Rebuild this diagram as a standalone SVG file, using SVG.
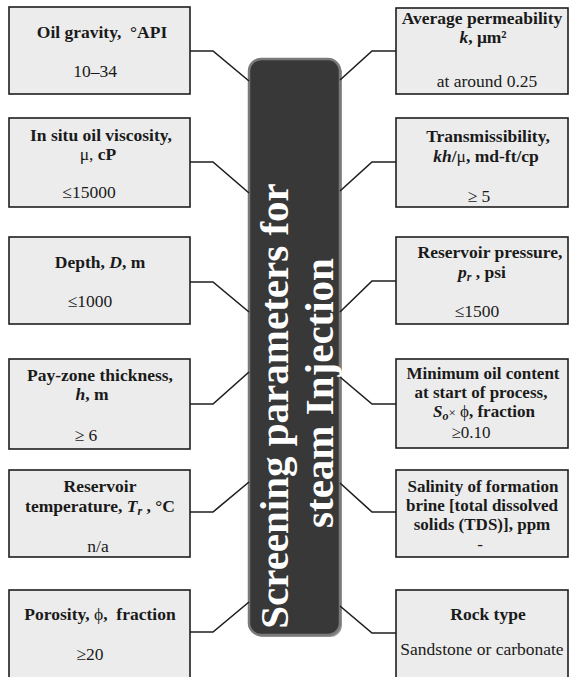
<svg xmlns="http://www.w3.org/2000/svg" width="569" height="677" viewBox="0 0 569 677">
<style>
.box{fill:#ececec;stroke:#1e1e1e;stroke-width:1.6}
.t{font-family:"Liberation Serif","Times New Roman",serif;font-size:17.5px;fill:#1a1a1a;text-anchor:middle}
.s{font-size:17px}
.b{font-weight:bold}
.i{font-style:italic}
.c{fill:none;stroke:#1e1e1e;stroke-width:1.6}
.title{font-family:"Liberation Serif","Times New Roman",serif;font-size:41px;font-weight:bold;fill:#ffffff;text-anchor:middle}
</style>
<rect width="569" height="677" fill="#ffffff"/>
<g id="center">
<rect x="251" y="61" width="91" height="576" rx="12" fill="#9a9a9a"/>
<rect x="249" y="59" width="91" height="576" rx="12" fill="#383838" stroke="#7a7a7a" stroke-width="2.5"/>
<text class="title" transform="translate(288,406) rotate(-90)">Screening parameters for</text>
<text class="title" transform="translate(333,393) rotate(-90)">steam Injection</text>
</g>
<g id="connectors">
<polyline class="c" points="190,51 213,51 249,81"/>
<polyline class="c" points="190,162 213,162 249,193"/>
<polyline class="c" points="190,282 213,282 249,312"/>
<polyline class="c" points="190,404 213,404 249,372"/>
<polyline class="c" points="190,512 213,512 249,482"/>
<polyline class="c" points="190,632 213,632 249,602"/>
<polyline class="c" points="396,51 372,51 340,80"/>
<polyline class="c" points="396,162 372,162 340,191"/>
<polyline class="c" points="396,281 372,281 340,312"/>
<polyline class="c" points="396,404 372,404 340,377"/>
<polyline class="c" points="396,512 372,512 340,483"/>
<polyline class="c" points="396,633 372,633 340,606"/>
</g>
<g id="oil-gravity">
<rect class="box" x="9" y="7" width="181" height="87"/>
<text class="t b" x="102" y="38">Oil gravity,&#160; °API</text>
<text class="t" x="95" y="77">10–34</text>
</g>
<g id="viscosity">
<rect class="box" x="9" y="118" width="181" height="89"/>
<text class="t b" x="101" y="141">In situ oil viscosity,</text>
<text class="t" x="98" y="160">μ, <tspan class="b">cP</tspan></text>
<text class="t" x="89" y="198">≤15000</text>
</g>
<g id="depth">
<rect class="box" x="9" y="237" width="181" height="87"/>
<text class="t b" x="100" y="268">Depth, <tspan class="i">D</tspan>, m</text>
<text class="t" x="90" y="307">≤1000</text>
</g>
<g id="thickness">
<rect class="box" x="9" y="359" width="181" height="90"/>
<text class="t b" x="100" y="381">Pay-zone thickness,</text>
<text class="t b" x="92" y="400"><tspan class="i">h</tspan>, m</text>
<text class="t" x="86" y="441">≥ 6</text>
</g>
<g id="temperature">
<rect class="box" x="9" y="470" width="181" height="87"/>
<text class="t b" x="100" y="492">Reservoir</text>
<text class="t b" x="100" y="512">temperature, <tspan class="i">T<tspan font-size="12" dy="3">r</tspan></tspan><tspan dy="-3"> , °C</tspan></text>
<text class="t" x="98" y="552">n/a</text>
</g>
<g id="porosity">
<rect class="box" x="9" y="590" width="181" height="90"/>
<text class="t b" x="100" y="620">Porosity, <tspan font-weight="normal">ϕ</tspan>,&#160; fraction</text>
<text class="t" x="90" y="660">≥20</text>
</g>
<g id="permeability">
<rect class="box" x="396" y="8" width="172" height="86"/>
<text class="t b" x="482" y="24">Average permeability</text>
<text class="t b" x="483" y="43"><tspan class="i">k</tspan>, μm²</text>
<text class="t" x="487" y="87">at around 0.25</text>
</g>
<g id="transmissibility">
<rect class="box" x="396" y="118" width="172" height="89"/>
<text class="t b" x="488" y="142">Transmissibility,</text>
<text class="t b" x="486" y="162"><tspan class="i">kh</tspan>/<tspan font-weight="normal">μ</tspan>, md-ft/cp</text>
<text class="t" x="479" y="202">≥ 5</text>
</g>
<g id="pressure">
<rect class="box" x="396" y="237" width="172" height="87"/>
<text class="t b" x="490" y="258">Reservoir pressure,</text>
<text class="t b" x="482" y="278"><tspan class="i">p<tspan font-size="12" dy="3">r</tspan></tspan><tspan dy="-3"> , psi</tspan></text>
<text class="t" x="477" y="317">≤1500</text>
</g>
<g id="oil-content">
<rect class="box" x="396" y="359" width="172" height="89"/>
<text class="t s b" x="483" y="379">Minimum oil content</text>
<text class="t s b" x="481" y="398">at start of process,</text>
<text class="t s b" x="484" y="417"><tspan class="i">S<tspan font-size="12" dy="3">o</tspan></tspan><tspan dy="-3" font-weight="normal" font-size="13">×</tspan> <tspan font-weight="normal">ϕ</tspan>, fraction</text>
<text class="t s" x="471" y="438">≥0.10</text>
</g>
<g id="salinity">
<rect class="box" x="396" y="470" width="172" height="87"/>
<text class="t s b" x="483" y="492">Salinity of formation</text>
<text class="t s b" x="482" y="511">brine [total dissolved</text>
<text class="t s b" x="482" y="530">solids (TDS)], ppm</text>
<text class="t s" x="480" y="550">-</text>
</g>
<g id="rock-type">
<rect class="box" x="396" y="590" width="172" height="90"/>
<text class="t b" x="488" y="620">Rock type</text>
<text class="t" x="482" y="655">Sandstone or carbonate</text>
</g>
</svg>
